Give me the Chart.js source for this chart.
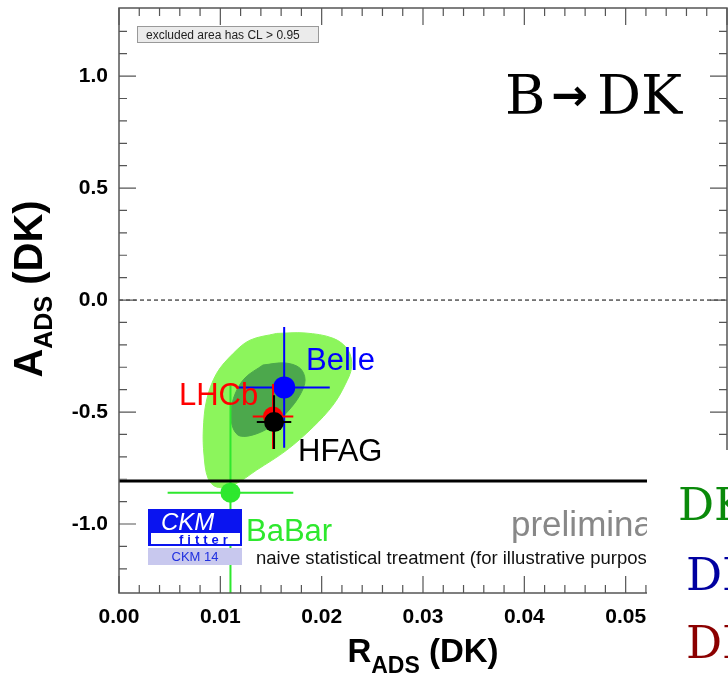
<!DOCTYPE html>
<html>
<head>
<meta charset="utf-8">
<script src="https://cdn.jsdelivr.net/npm/chart.js@4.4.1/dist/chart.umd.min.js"></script>
<style>
  html, body { margin: 0; padding: 0; background: #fff; }
  #wrap { width: 728px; height: 677px; }
</style>
</head>
<body>
<div id="wrap"><canvas id="chartAds" width="728" height="677"></canvas></div>
<script>
// ADS measurements, B -> DK
const experiments = ["BaBar", "Belle", "LHCb", "HFAG"];
const rAds = [0.0110, 0.0163, 0.0152, 0.0153];
const rAdsErr = [0.0062, 0.0045, 0.0020, 0.0017];
const aAds = [-0.86, -0.39, -0.52, -0.545];
const aAdsErr = [0.48, 0.27, 0.145, 0.12];

// CKMfitter contours (outer = light, inner = dark)
const outerR = [0.01556, 0.01836, 0.02115, 0.02260, 0.02296, 0.02230, 0.02112, 0.01918, 0.01655, 0.01359,
                0.01128, 0.00964, 0.00878, 0.00839, 0.00832, 0.00865, 0.00964, 0.01128, 0.01293];
const outerA = [-0.149, -0.147, -0.171, -0.223, -0.298, -0.379, -0.469, -0.566, -0.670, -0.759,
                -0.826, -0.835, -0.795, -0.692, -0.580, -0.446, -0.327, -0.238, -0.179];
const innerR = [0.01421, 0.01638, 0.01786, 0.01836, 0.01786, 0.01668, 0.01520, 0.01352, 0.01194, 0.01125,
                0.01105, 0.01145, 0.01243];
const innerA = [-0.290, -0.281, -0.304, -0.357, -0.424, -0.496, -0.558, -0.598, -0.607, -0.571,
                -0.500, -0.420, -0.348];

// axes
const xMajorTicks = [0.00, 0.01, 0.02, 0.03, 0.04, 0.05];
const yMajorTicks = [-1.0, -0.5, 0.0, 0.5, 1.0];
const boundaryA = -0.808;

const expColors = ["#2ee82e", "#0000ff", "#ff0000", "#000000"];
// label anchors (left/baseline) in data units
const labelAt = [[0.01253, -1.076], [0.01845, -0.3125], [0.00592, -0.469], [0.01767, -0.719]];

const sans = '"Liberation Sans", Arial, sans-serif';

function closed(xs, ys) {
    const pts = xs.map((x, i) => ({ x: x, y: ys[i] }));
    pts.push(pts[0]);
    return pts;
}

function isOn(list, v) {
    return list.some(t => Math.abs(t - v) < 1e-6);
}

function onStep(v, step) {
    const q = v / step;
    return Math.abs(q - Math.round(q)) < 1e-6;
}

const datasets = [
    {
        data: closed(outerR, outerA), showLine: true, fill: 'shape', tension: 0.35,
        backgroundColor: "#8cf55c", borderColor: "#8cf55c", borderWidth: 1, pointRadius: 0, order: 10
    },
    {
        data: closed(innerR, innerA), showLine: true, fill: 'shape', tension: 0.35,
        backgroundColor: "#4ca84c", borderColor: "#4ca84c", borderWidth: 1, pointRadius: 0, order: 9
    }
];
experiments.forEach((name, i) => {
    datasets.push({
        label: name,
        data: [{ x: rAds[i], y: aAds[i] }],
        backgroundColor: expColors[i],
        borderColor: expColors[i],
        pointRadius: i === 1 ? 11 : 10,
        pointBorderWidth: 0,
        order: 5 - i
    });
});

const adsPlot = {
    id: 'adsPlot',
    afterDatasetDraw(chart, args) {
        const i = args.index - 2;
        if (i < 0) return;
        const { ctx, chartArea: a } = chart;
        const xs = chart.scales.x, ys = chart.scales.y;
        const px = xs.getPixelForValue(rAds[i]), py = ys.getPixelForValue(aAds[i]);
        ctx.save();
        ctx.beginPath();
        ctx.rect(a.left, a.top, a.right - a.left, a.bottom - a.top);
        ctx.clip();
        ctx.strokeStyle = expColors[i];
        ctx.lineWidth = 2;
        ctx.beginPath();
        ctx.moveTo(xs.getPixelForValue(rAds[i] - rAdsErr[i]), py);
        ctx.lineTo(xs.getPixelForValue(rAds[i] + rAdsErr[i]), py);
        ctx.moveTo(px, ys.getPixelForValue(aAds[i] + aAdsErr[i]));
        ctx.lineTo(px, ys.getPixelForValue(aAds[i] - aAdsErr[i]));
        ctx.stroke();
        ctx.restore();
    },
    afterDatasetsDraw(chart) {
        const { ctx, chartArea: a } = chart;
        const xs = chart.scales.x, ys = chart.scales.y;
        ctx.save();

        // dashed zero line
        ctx.strokeStyle = "#000";
        ctx.lineWidth = 1;
        ctx.setLineDash([4, 3]);
        ctx.beginPath();
        ctx.moveTo(a.left, ys.getPixelForValue(0));
        ctx.lineTo(a.right, ys.getPixelForValue(0));
        ctx.stroke();
        ctx.setLineDash([]);

        // physical boundary
        ctx.lineWidth = 3;
        ctx.beginPath();
        ctx.moveTo(a.left, ys.getPixelForValue(boundaryA));
        ctx.lineTo(a.right, ys.getPixelForValue(boundaryA));
        ctx.stroke();

        // experiment labels
        ctx.font = "31px " + sans;
        ctx.textBaseline = "alphabetic";
        ctx.textAlign = "left";
        experiments.forEach((name, i) => {
            ctx.fillStyle = expColors[i];
            ctx.fillText(name, xs.getPixelForValue(labelAt[i][0]), ys.getPixelForValue(labelAt[i][1]));
        });

        ctx.fillStyle = "#888";
        ctx.font = "35px " + sans;
        ctx.fillText("preliminary", a.left + 392, a.bottom - 57);
        ctx.fillStyle = "#111";
        ctx.font = "18.5px " + sans;
        ctx.fillText("naive statistical treatment (for illustrative purposes)", a.left + 137, a.bottom - 29);

        // CKMfitter logo
        const lx = a.left + 29, ly = a.bottom - 84;
        ctx.fillStyle = "#0a14f0";
        ctx.fillRect(lx, ly, 94, 37);
        ctx.fillStyle = "#fff";
        ctx.fillRect(lx + 3, ly + 24, 89, 11);
        ctx.font = "italic 24px " + sans;
        ctx.fillText("CKM", lx + 13, ly + 21);
        ctx.fillStyle = "#0a14f0";
        ctx.font = "bold 13px " + sans;
        ctx.letterSpacing = "4px";
        ctx.fillText("fitter", lx + 31, ly + 35);
        ctx.letterSpacing = "0px";
        ctx.fillStyle = "#c8c8ee";
        ctx.fillRect(lx, ly + 39, 94, 17);
        ctx.fillStyle = "#2030e0";
        ctx.font = "13px " + sans;
        ctx.textAlign = "center";
        ctx.fillText("CKM 14", lx + 47, ly + 52);
        ctx.textAlign = "left";

        // CL note
        ctx.fillStyle = "#ebebeb";
        ctx.fillRect(a.left + 18.5, a.top + 18.5, 181, 16);
        ctx.strokeStyle = "#999";
        ctx.lineWidth = 1;
        ctx.strokeRect(a.left + 18.5, a.top + 18.5, 181, 16);
        ctx.fillStyle = "#222";
        ctx.font = "12px " + sans;
        ctx.fillText("excluded area has CL > 0.95", a.left + 27, a.top + 31);

        // process
        ctx.fillStyle = "#000";
        ctx.font = '55px "DejaVu Serif", serif';
        ctx.fillText("B", a.left + 386, a.top + 106);
        ctx.fillText("DK", a.left + 478, a.top + 106);
        ctx.font = 'bold 44px "DejaVu Sans", sans-serif';
        ctx.fillText("\u2192", a.left + 432, a.top + 102);

        // frame and inward ticks
        ctx.strokeStyle = "#555";
        ctx.lineWidth = 1.5;
        ctx.strokeRect(a.left, a.top, a.right - a.left, a.bottom - a.top);
        ctx.lineWidth = 1.2;
        ctx.beginPath();
        xs.ticks.forEach(t => {
            if (!onStep(t.value, 0.002)) return;
            const p = xs.getPixelForValue(t.value);
            const len = onStep(t.value, 0.01) ? 17 : 8;
            ctx.moveTo(p, a.bottom); ctx.lineTo(p, a.bottom - len);
            ctx.moveTo(p, a.top); ctx.lineTo(p, a.top + len);
        });
        ys.ticks.forEach(t => {
            if (!onStep(t.value, 0.1)) return;
            const p = ys.getPixelForValue(t.value);
            const len = onStep(t.value, 0.5) ? 17 : 8;
            ctx.moveTo(a.left, p); ctx.lineTo(a.left + len, p);
            ctx.moveTo(a.right, p); ctx.lineTo(a.right - len, p);
        });
        ctx.stroke();
        ctx.restore();
    },
    afterDraw(chart) {
        const { ctx, chartArea: a } = chart;
        const xs = chart.scales.x;
        ctx.save();

        // side panel over the lower right corner
        const cx = Math.round(xs.getPixelForValue(0.052)) + 1;
        ctx.fillStyle = "#fff";
        ctx.fillRect(cx, 450, chart.width - cx, chart.height - 450);
        ctx.font = '45px "DejaVu Serif", serif';
        ctx.fillStyle = "#0a8a0a";
        ctx.fillText("DK", 678, 520);
        ctx.fillStyle = "#0000a0";
        ctx.fillText("DK", 686, 590);
        ctx.fillStyle = "#8b0000";
        ctx.fillText("DK", 686, 658);

        // axis titles
        ctx.fillStyle = "#000";
        const big = "bold 33px " + sans, small = "bold 23px " + sans;
        ctx.font = big;
        const wR = ctx.measureText("R").width, wP = ctx.measureText(" (DK)").width;
        ctx.font = small;
        const wS = ctx.measureText("ADS").width;
        let x0 = (a.left + a.right) / 2 - (wR + wS + wP) / 2;
        ctx.font = big; ctx.fillText("R", x0, 662);
        ctx.font = small; ctx.fillText("ADS", x0 + wR, 673);
        ctx.font = big; ctx.fillText(" (DK)", x0 + wR + wS, 662);

        ctx.translate(42, 289);
        ctx.rotate(-Math.PI / 2);
        const bigY = "bold 40px " + sans, smallY = "bold 25px " + sans;
        ctx.font = bigY;
        const wA = ctx.measureText("A").width, wP2 = ctx.measureText(" (DK)").width;
        ctx.font = smallY;
        const wS2 = ctx.measureText("ADS").width;
        x0 = -(wA + wS2 + wP2) / 2;
        ctx.font = bigY; ctx.fillText("A", x0, 0);
        ctx.font = smallY; ctx.fillText("ADS", x0 + wA, 10);
        ctx.font = bigY; ctx.fillText(" (DK)", x0 + wA + wS2, 0);
        ctx.restore();
    }
};

function noPad(s) {
    s.paddingTop = 0; s.paddingBottom = 0; s.paddingLeft = 0; s.paddingRight = 0;
}

new Chart(document.getElementById("chartAds"), {
    type: "scatter",
    data: { datasets: datasets },
    options: {
        responsive: false,
        animation: false,
        devicePixelRatio: 1,
        layout: { autoPadding: false, padding: { top: 8, right: 1, left: 0, bottom: 0 } },
        plugins: { legend: { display: false }, tooltip: { enabled: false } },
        scales: {
            x: {
                type: "linear", min: 0, max: 0.06,
                grid: { display: false, drawTicks: false },
                border: { display: false },
                ticks: {
                    stepSize: 0.002, autoSkip: false, maxRotation: 0, padding: 12,
                    color: "#000", font: { family: sans, size: 21, weight: "bold" },
                    callback: v => isOn(xMajorTicks, v) ? v.toFixed(2) : ""
                },
                afterFit: s => { s.height = 84; noPad(s); }
            },
            y: {
                type: "linear", min: -1.308, max: 1.304,
                grid: { display: false, drawTicks: false },
                border: { display: false },
                ticks: {
                    stepSize: 0.1, autoSkip: false, padding: 11,
                    color: "#000", font: { family: sans, size: 21, weight: "bold" },
                    callback: v => isOn(yMajorTicks, v) ? v.toFixed(1) : ""
                },
                afterFit: s => { s.width = 119; noPad(s); }
            }
        }
    },
    plugins: [adsPlot]
});
</script>
</body>
</html>
